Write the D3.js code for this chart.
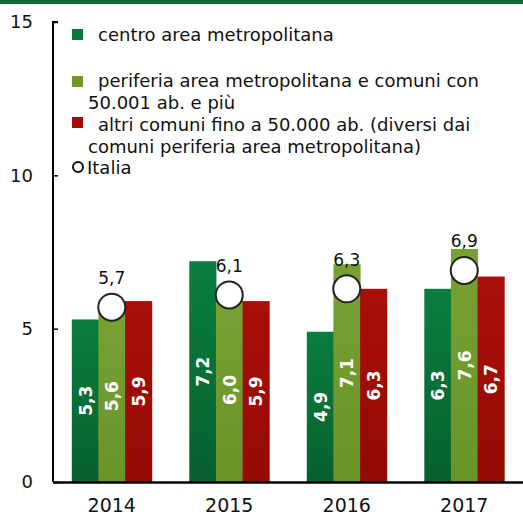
<!DOCTYPE html>
<html><head><meta charset="utf-8">
<script src="https://cdn.jsdelivr.net/npm/d3@7"></script>
<style>body{margin:0;background:#fff}svg{display:block;font-family:"DejaVu Sans",sans-serif}</style>
</head><body><svg id="c" width="523" height="515"></svg>
<script>
const years = ["2014","2015","2016","2017"];
const seriesNames = ["centro area metropolitana","periferia area metropolitana e comuni con 50.001 ab. e più","altri comuni fino a 50.000 ab. (diversi dai comuni periferia area metropolitana)"];
const centro = [5.3,7.2,4.9,6.3];
const periferia = [5.6,6.0,7.1,7.6];
const altri = [5.9,5.9,6.3,6.7];
const italia = [5.7,6.1,6.3,6.9];
const yTicks = [0,5,10,15];

const svg = d3.select("#c");
const W=523,H=515;
const m={l:53,r:0,t:22,b:33};
const x = d3.scaleBand().domain(years).range([m.l,W]).paddingInner(0.32).paddingOuter(0.16);
const y = d3.scaleLinear().domain([0,15]).range([H-m.b,m.t]);
const keys=["c","p","a"];
const xs = d3.scaleBand().domain(keys).range([0,x.bandwidth()]);
const colors={c:"#08763a",p:"#6e9a2c",a:"#a10d06"};
const data = years.map((yr,i)=>({yr,c:centro[i],p:periferia[i],a:altri[i],it:italia[i]}));
const fmt = v=>d3.format(".1f")(v).replace(".",",");
const FONT="DejaVu Sans, sans-serif";

// top band
svg.append("rect").attr("x",0).attr("y",0).attr("width",W).attr("height",4).attr("fill","#0d6b3a");

// gradients
const defs=svg.append("defs");
const gdef={c:["#07602e","#0a7e3e"],p:["#6a9328","#77a232"],a:["#950a04","#a80f08"]};
keys.forEach(k=>{
  const g=defs.append("linearGradient").attr("id","g"+k).attr("x1","0").attr("x2","0").attr("y1","1").attr("y2","0");
  g.append("stop").attr("offset","0").attr("stop-color",gdef[k][0]);
  g.append("stop").attr("offset","1").attr("stop-color",gdef[k][1]);
});

// bars
const grp = svg.append("g").selectAll("g").data(data).join("g").attr("transform",d=>`translate(${x(d.yr)},0)`);
grp.selectAll("rect").data(d=>keys.map(k=>({k,v:d[k]}))).join("rect")
  .attr("x",d=>xs(d.k)).attr("width",xs.bandwidth()+0.5)
  .attr("y",d=>y(d.v)).attr("height",d=>y(0)-y(d.v)).attr("fill",d=>`url(#g${d.k})`);
grp.selectAll("text.v").data(d=>keys.map(k=>({k,v:d[k]}))).join("text").attr("class","v")
  .attr("transform",d=>`translate(${xs(d.k)+xs.bandwidth()/2+6.5},${(y(d.v)+y(0))/2}) rotate(-90)`)
  .attr("text-anchor","middle").attr("fill","#fff").attr("font-weight","bold").attr("font-size",17)
  .text(d=>fmt(d.v));

// italia circles
grp.append("circle").attr("cx",xs("p")+xs.bandwidth()/2).attr("cy",d=>y(d.it)).attr("r",13.5)
  .attr("fill","#fff").attr("stroke","#222").attr("stroke-width",2);
grp.append("text").attr("x",xs("p")+xs.bandwidth()/2).attr("y",d=>y(d.it)-23)
  .attr("text-anchor","middle").attr("font-size",17).attr("fill","#111").text(d=>fmt(d.it));

// axes
const ya = svg.append("g").attr("transform",`translate(${m.l},0)`)
  .call(d3.axisRight(y).tickValues(yTicks).tickSize(5).tickFormat(d3.format("d")));
ya.select(".domain").attr("stroke","#000").attr("stroke-width",2).attr("d",`M5,${y(15)}H0V${y(0)}`);
ya.selectAll(".tick line").attr("stroke","#000").attr("stroke-width",1.5);
ya.selectAll(".tick text").attr("x",-20).attr("text-anchor","end").attr("font-size",18).attr("fill","#111").attr("font-family",FONT);

const xa = svg.append("g").attr("transform",`translate(0,${y(0)})`)
  .call(d3.axisBottom(x).tickSize(0).tickPadding(17));
xa.select(".domain").attr("stroke","#000").attr("stroke-width",2.5);
xa.selectAll(".tick text").attr("font-size",19).attr("fill","#111").attr("font-family",FONT);

// legend
const lg = svg.append("g").attr("font-size",18).attr("fill","#111");
const leg = [
  {k:"c",sq:29,lines:[{t:seriesNames[0],x:98,y:41}]},
  {k:"p",sq:76,lines:[{t:"periferia area metropolitana e comuni con",x:98,y:87},{t:"50.001 ab. e più",x:88,y:109}]},
  {k:"a",sq:117,lines:[{t:"altri comuni fino a 50.000 ab. (diversi dai",x:98,y:131},{t:"comuni periferia area metropolitana)",x:88,y:153}]}
];
leg.forEach(l=>{
  lg.append("rect").attr("x",72).attr("y",l.sq).attr("width",11).attr("height",11).attr("fill",colors[l.k]);
  l.lines.forEach(t=>lg.append("text").attr("x",t.x).attr("y",t.y).text(t.t));
});
lg.append("circle").attr("cx",78).attr("cy",167).attr("r",5).attr("fill","#fff").attr("stroke","#111").attr("stroke-width",2);
lg.append("text").attr("x",87).attr("y",174).text("Italia");
</script></body></html>
